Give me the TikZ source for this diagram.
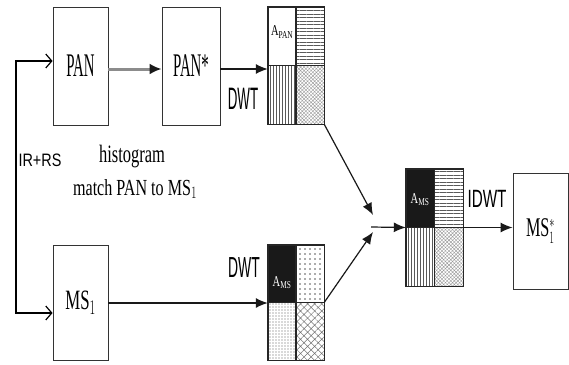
\documentclass[tikz,border=0pt]{standalone}
\usepackage{fontspec}
\usepackage{graphicx}
\setmainfont{Liberation Serif}
\newfontfamily\sansf{Liberation Sans}
\usetikzlibrary{arrows.meta,patterns,patterns.meta}
\newcommand{\sqx}[2]{\scalebox{#1}[1]{#2}}
\begin{document}
\begin{tikzpicture}[x=1pt,y=-1pt,
  box/.style={draw=black!80,line width=0.9pt,inner sep=0pt,fill=white},
  cellgrid/.style={inner sep=0pt},
  gridborder/.style={draw=black!85,line width=1.4pt},
  splitline/.style={draw=black!85,line width=1.1pt},
  conn/.style={draw=black!90,line width=1.2pt,-{Latex[length=12pt,width=10pt]}},
  hlin/.style={pattern={Lines[angle=0,distance=3.5pt,line width=0.9pt]},pattern color=black!65},
  vlin/.style={pattern={Lines[angle=90,distance=3pt,line width=0.8pt]},pattern color=black!65},
  fhatch/.style={pattern={Hatch[angle=45,distance=2.5pt,line width=0.4pt]},pattern color=black!40},
  dhatch/.style={pattern={Hatch[angle=45,distance=5pt,line width=0.5pt]},pattern color=black!55},
  sdots/.style={pattern={Dots[distance=5pt,radius=0.9pt]},pattern color=black!65},
  vdots/.style={pattern={Dots[distance=3pt,radius=0.6pt]},pattern color=black!65},
  lbl/.style={inner sep=0pt},
  greyconn/.style={draw=black!45,line width=3pt,-{Latex[length=12pt,width=11pt,color=black!90]}},
]
\useasboundingbox (0,0) rectangle (569,364);

% boxes
\node[box,minimum width=55pt,minimum height=118pt] (pan) at (80.5,66)
  {\fontsize{33}{33}\selectfont\sqx{0.45}{PAN}};
\node[box,minimum width=58pt,minimum height=118pt] (panstar) at (191,66)
  {\fontsize{33}{33}\selectfont\sqx{0.45}{PAN*}};
\node[box,minimum width=55pt,minimum height=115pt] (ms) at (80.5,302.5)
  {\fontsize{28}{28}\selectfont\sqx{0.6}{MS$_1$}};
\node[box,minimum width=55pt,minimum height=116pt] (msstar) at (540.5,231)
  {\fontsize{27}{27}\selectfont\sqx{0.6}{MS$_1^{\ast}$}};

% wavelet grids
\node[cellgrid,minimum width=56pt,minimum height=117pt] (g1) at (296,65.5) {};
\node[cellgrid,minimum width=56pt,minimum height=115pt] (g2) at (296,302.5) {};
\node[cellgrid,minimum width=57pt,minimum height=117pt] (g3) at (434.5,227.5) {};

% grid 1 (PAN)
\path[hlin] (g1.north) rectangle (g1.east);
\path[vlin] (g1.west) rectangle (g1.south);
\path[fhatch] (g1.center) rectangle (g1.south east);
\draw[splitline] (g1.north) -- (g1.south) (g1.west) -- (g1.east);
\draw[gridborder] (g1.north west) rectangle (g1.south east);
\node[lbl] (apan) at (282,32) {\fontsize{15}{15}\selectfont\sqx{0.7}{A\textsubscript{PAN}}};

% grid 2 (MS)
\fill[black!90] (g2.north west) rectangle (g2.center);
\path[sdots] (g2.north) rectangle (g2.east);
\path[vdots] (g2.west) rectangle (g2.south);
\path[dhatch] (g2.center) rectangle (g2.south east);
\draw[splitline] (g2.north) -- (g2.south) (g2.west) -- (g2.east);
\draw[gridborder] (g2.north west) rectangle (g2.south east);
\node[lbl,text=white] (ams1) at (282,283) {\fontsize{15}{15}\selectfont\sqx{0.7}{A\textsubscript{MS}}};

% grid 3 (fused)
\fill[black!90] (g3.north west) rectangle (g3.center);
\path[hlin] (g3.north) rectangle (g3.east);
\path[vlin] (g3.west) rectangle (g3.south);
\path[fhatch] (g3.center) rectangle (g3.south east);
\draw[splitline] (g3.north) -- (g3.south) (g3.west) -- (g3.east);
\draw[gridborder] (g3.north west) rectangle (g3.south east);
\node[lbl,text=white] (ams2) at (420,200) {\fontsize{15}{15}\selectfont\sqx{0.7}{A\textsubscript{MS}}};

% coordinates
\coordinate (y69) at (0,69);
\coordinate (l1) at (16,61);
\coordinate (l2) at (16,313);
\coordinate (ms303) at (0,303);
\coordinate (c1) at (373,215);
\coordinate (c2) at (373,232);
\coordinate (c) at (371,227);

% connectors
\draw[greyconn] (pan.east|-y69) -- (panstar.west|-y69);
\draw[conn] (panstar.east|-y69) -- (g1.west|-y69);
\draw[black,line width=1.2pt,{Straight Barb[length=6pt,width=14pt]}-{Straight Barb[length=6pt,width=14pt]}]
  (pan.west|-l1) -- (l1) -- (l2) -- (ms.west|-l2);
\draw[conn] (ms.east|-ms303) -- (g2.west|-ms303);
\draw[conn] (g1.south east) -- (c1);
\draw[conn] (g2.east) -- (c2);
\draw[conn] (c) -- (g3.west);
\draw[conn] (g3.east) -- (g3.east-|msstar.west);

% labels
\node[lbl,anchor=base] (dwt1) at (243,109) {\sansf\fontsize{31}{31}\selectfont\sqx{0.43}{DWT}};
\node[lbl,anchor=base] (dwt2) at (244,277) {\sansf\fontsize{29}{29}\selectfont\sqx{0.48}{DWT}};
\node[lbl,anchor=base] (idwt) at (487,207) {\sansf\fontsize{25}{25}\selectfont\sqx{0.61}{IDWT}};
\node[lbl,anchor=base] (irrs) at (40,166) {\sansf\fontsize{18}{18}\selectfont\sqx{0.8}{IR+RS}};
\node[lbl,anchor=base] (hist1) at (132,162) {\fontsize{25}{25}\selectfont\sqx{0.66}{histogram}};
\node[lbl,anchor=base] (hist2) at (135,195) {\fontsize{23}{23}\selectfont\sqx{0.7}{match PAN to MS$_1$}};
\end{tikzpicture}
\end{document}
